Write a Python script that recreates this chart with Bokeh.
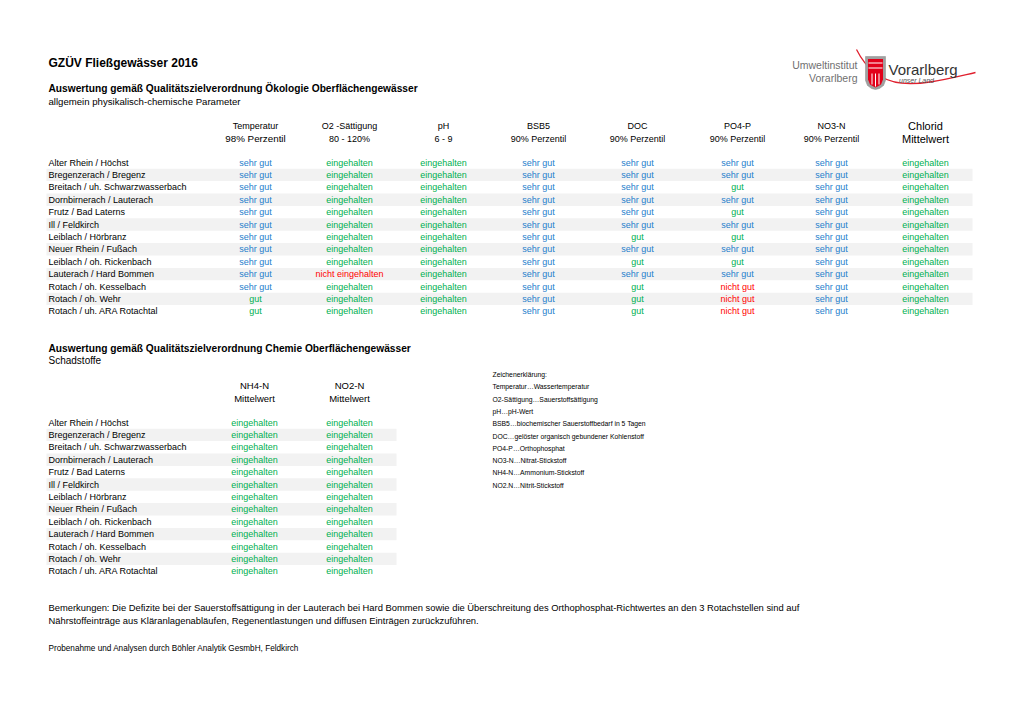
from bokeh.plotting import figure
from bokeh.models import Range1d, ColumnDataSource
from bokeh.embed import file_html
from bokeh.resources import INLINE
from bokeh.core.properties import value

# ---------------- data ----------------
sites = [
    "Alter Rhein / Höchst", "Bregenzerach / Bregenz", "Breitach / uh. Schwarzwasserbach",
    "Dornbirnerach / Lauterach", "Frutz / Bad Laterns", "Ill / Feldkirch",
    "Leiblach / Hörbranz", "Neuer Rhein / Fußach", "Leiblach / oh. Rickenbach",
    "Lauterach / Hard Bommen", "Rotach / oh. Kesselbach", "Rotach / oh. Wehr",
    "Rotach / uh. ARA Rotachtal",
]
params1 = ["Temperatur", "O2 -Sättigung", "pH", "BSB5", "DOC", "PO4-P", "NO3-N", "Chlorid"]
limits1 = ["98% Perzentil", "80 - 120%", "6 - 9", "90% Perzentil", "90% Perzentil",
           "90% Perzentil", "90% Perzentil", "Mittelwert"]
temperatur = ["sehr gut"] * 11 + ["gut", "gut"]
o2_saettigung = ["eingehalten"] * 9 + ["nicht eingehalten"] + ["eingehalten"] * 3
ph = ["eingehalten"] * 13
bsb5 = ["sehr gut"] * 13
doc = ["sehr gut", "sehr gut", "sehr gut", "sehr gut", "sehr gut", "sehr gut", "gut",
       "sehr gut", "gut", "sehr gut", "gut", "gut", "gut"]
po4_p = ["sehr gut", "sehr gut", "gut", "sehr gut", "gut", "sehr gut", "gut",
         "sehr gut", "gut", "sehr gut", "nicht gut", "nicht gut", "nicht gut"]
no3_n = ["sehr gut"] * 13
chlorid = ["eingehalten"] * 13

params2 = ["NH4-N", "NO2-N"]
limits2 = ["Mittelwert", "Mittelwert"]
nh4_n = ["eingehalten"] * 13
no2_n = ["eingehalten"] * 13

legend_lines = [
    "Zeichenerklärung:",
    "Temperatur…Wassertemperatur",
    "O2-Sättigung…Sauerstoffsättigung",
    "pH…pH-Wert",
    "BSB5…biochemischer Sauerstoffbedarf in 5 Tagen",
    "DOC…gelöster organisch gebundener Kohlenstoff",
    "PO4-P…Orthophosphat",
    "NO3-N…Nitrat-Stickstoff",
    "NH4-N…Ammonium-Stickstoff",
    "NO2.N…Nitrit-Stickstoff",
]

remark1 = ("Bemerkungen: Die Defizite bei der Sauerstoffsättigung in der Lauterach bei Hard Bommen sowie die "
           "Überschreitung des Orthophosphat-Richtwertes an den 3 Rotachstellen sind auf")
remark2 = "Nährstoffeinträge aus Kläranlagenabläufen, Regenentlastungen und diffusen Einträgen zurückzuführen."
footer = "Probenahme und Analysen durch Böhler Analytik GesmbH, Feldkirch"

# ---------------- styles / layout ----------------
FONT = "Liberation Sans"
COLORS = {"sehr gut": "#2680cc", "gut": "#00b050", "eingehalten": "#00b050",
          "nicht eingehalten": "#ff0000", "nicht gut": "#ff0000"}
STRIPE = "#f2f2f2"

W, H = 1004, 705
p = figure(width=W, height=H, x_range=Range1d(0, W), y_range=Range1d(H, 0),
           x_axis_type=None, y_axis_type=None, output_backend="svg",
           toolbar_location=None, min_border=0)
p.grid.visible = False
p.outline_line_color = None
p.background_fill_color = "white"
p.border_fill_color = "white"


def txt(x, y, t, size, color="black", align="left", style="normal", font=FONT, baseline="middle"):
    p.text(x=[x], y=[y], text=[t], text_font=value(font), text_font_size=size,
           text_color=color, text_align=align, text_baseline=baseline, text_font_style=style)


LEFT = 48

# titles
txt(LEFT, 62, "GZÜV Fließgewässer 2016", "12px", style="bold")
txt(LEFT, 88, "Auswertung gemäß Qualitätszielverordnung Ökologie Oberflächengewässer", "10.2px", style="bold")
txt(LEFT, 101, "allgemein physikalisch-chemische Parameter", "9.6px")


def table(y0, step, cols_x, columns, stripe_right):
    n = len(sites)
    ys = [y0 + i * step for i in range(n)]
    odd = [y for i, y in enumerate(ys) if i % 2 == 1]
    p.quad(left=[46] * len(odd), right=[stripe_right] * len(odd),
           top=[y - step / 2 for y in odd], bottom=[y + step / 2 for y in odd],
           fill_color=STRIPE, line_color=None)
    src = ColumnDataSource(dict(x=[LEFT] * n, y=ys, t=sites))
    p.text(x="x", y="y", text="t", source=src, text_font=value(FONT), text_font_size="9px",
           text_color="#000000", text_baseline="middle", text_align="left")
    xs, yy, tt, cc = [], [], [], []
    for cx, col in zip(cols_x, columns):
        for y, v in zip(ys, col):
            xs.append(cx); yy.append(y); tt.append(v); cc.append(COLORS[v])
    src2 = ColumnDataSource(dict(x=xs, y=yy, t=tt, c=cc))
    p.text(x="x", y="y", text="t", text_color="c", source=src2, text_font=value(FONT),
           text_font_size="9px", text_baseline="middle", text_align="center")


STEP = 12.4
# table 1
cols1_x = [255, 349, 443, 538, 637, 737, 831, 925]
hdr_sizes1 = ["9px"] * 7 + ["11px"]
lim_sizes1 = ["9.8px"] + ["9px"] * 6 + ["11px"]
for cx, h, l, hs, ls in zip(cols1_x, params1, limits1, hdr_sizes1, lim_sizes1):
    txt(cx, 125, h, hs, align="center")
    txt(cx, 138, l, ls, align="center")
table(162, STEP, cols1_x, [temperatur, o2_saettigung, ph, bsb5, doc, po4_p, no3_n, chlorid], 972)

# section 2
txt(LEFT, 348, "Auswertung gemäß Qualitätszielverordnung Chemie Oberflächengewässer", "10.2px", style="bold")
txt(LEFT, 360, "Schadstoffe", "10px")
cols2_x = [254, 349]
for cx, h, l in zip(cols2_x, params2, limits2):
    txt(cx, 385, h, "9.5px", align="center")
    txt(cx, 398, l, "9.5px", align="center")
table(422, STEP, cols2_x, [nh4_n, no2_n], 396)

# legend
leg_src = ColumnDataSource(dict(x=[492] * len(legend_lines),
                                y=[374 + i * 12.3 for i in range(len(legend_lines))],
                                t=legend_lines))
p.text(x="x", y="y", text="t", source=leg_src, text_font=value(FONT), text_font_size="6.8px",
       text_color="#000000", text_baseline="middle")

# remarks
txt(LEFT, 607, remark1, "9.4px")
txt(LEFT, 620, remark2, "9.4px")
txt(LEFT, 648, footer, "8.2px")

# ---------------- logo ----------------
txt(857, 64, "Umweltinstitut", "10.5px", color="#707070", align="right")
txt(857, 77, "Vorarlberg", "10.5px", color="#707070", align="right")
p.bezier(x0=[856], y0=[49], x1=[975], y1=[72], cx0=[880], cy0=[97], cx1=[922], cy1=[84],
         line_color="#e0202e", line_width=1.3)
p.patch([865, 885, 885, 883, 879, 875, 871, 867, 865], [56, 56, 80, 85, 88, 89, 88, 85, 80],
        fill_color="#a0a0a0", line_color="#8a8a8a", line_width=0.5)
p.patch([867.5, 882.5, 882.5, 880.5, 877, 875, 873, 869.5, 867.5],
        [58.5, 58.5, 79, 84, 86, 87, 86, 84, 79], fill_color="#e2001a", line_color=None)
p.quad(left=[868, 868, 871, 874.5, 878], right=[882, 882, 872, 875.5, 879],
       top=[62, 67, 73, 73, 73], bottom=[63, 68, 84, 86, 84], fill_color="white", line_color=None)
txt(888, 69, "Vorarlberg", "15px", color="#333333")
txt(916, 79.5, "unser Land", "7px", color="#555555", align="center", style="italic")

open("out.html", "w").write(file_html(p, INLINE))
